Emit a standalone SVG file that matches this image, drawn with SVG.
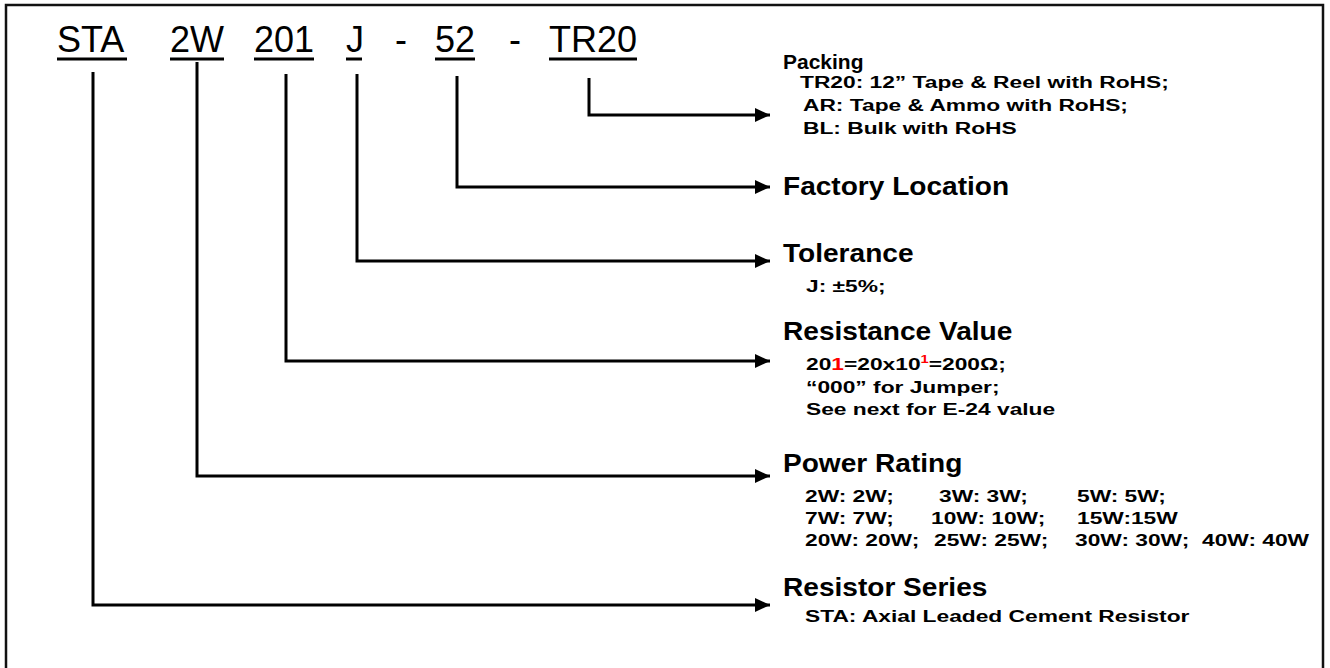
<svg xmlns="http://www.w3.org/2000/svg" width="1330" height="668" viewBox="0 0 1330 668">
<defs>
<marker id="arr" viewBox="0 0 15 14" refX="15" refY="7" markerWidth="15" markerHeight="14" markerUnits="userSpaceOnUse" orient="auto">
<path d="M0,0 L15,7 L0,14 Z" fill="#000"/>
</marker>
<style>
.title{font-family:"Liberation Sans",Arial,sans-serif;font-size:36px;fill:#000}
.ul{stroke:#000;stroke-width:3}
.conn{fill:none;stroke:#000;stroke-width:3;marker-end:url(#arr)}
.head{font-family:"Liberation Sans",Arial,sans-serif;font-size:26px;font-weight:bold;fill:#000}
.head2{font-family:"Liberation Sans",Arial,sans-serif;font-size:20px;font-weight:bold;fill:#000}
.sub{font-family:"Liberation Sans",Arial,sans-serif;font-size:17px;font-weight:bold;fill:#000}
.red{fill:#ff0000}
</style>
</defs>
<rect width="1330" height="668" fill="#fff"/>
<path d="M6,670 V5 H1323 V670" fill="none" stroke="#111" stroke-width="2.5"/>
<g id="code">
<text class="title" y="52"><tspan x="57">STA</tspan><tspan x="170">2W</tspan><tspan x="254">201</tspan><tspan x="346">J</tspan><tspan x="395">-</tspan><tspan x="435">52</tspan><tspan x="509">-</tspan><tspan x="549">TR20</tspan></text>
<line class="ul" x1="57" y1="59" x2="127" y2="59"/>
<line class="ul" x1="170" y1="59" x2="224" y2="59"/>
<line class="ul" x1="254" y1="59" x2="314" y2="59"/>
<line class="ul" x1="346" y1="59" x2="362" y2="59"/>
<line class="ul" x1="435" y1="59" x2="475" y2="59"/>
<line class="ul" x1="549" y1="59" x2="637" y2="59"/>
</g>
<g id="connectors">
<path class="conn" d="M589,78 V115 H770"/>
<path class="conn" d="M457,76 V187 H770"/>
<path class="conn" d="M357,74 V261 H770"/>
<path class="conn" d="M286,74 V361 H770"/>
<path class="conn" d="M197,62 V476 H770"/>
<path class="conn" d="M93,72 V605 H770"/>
</g>
<g id="packing">
<text class="head2" transform="translate(783,69) scale(1.05,1)">Packing</text>
<text class="sub" transform="translate(800,88) scale(1.34,1)">TR20: 12” Tape &amp; Reel with RoHS;</text>
<text class="sub" transform="translate(803,111) scale(1.34,1)">AR: Tape &amp; Ammo with RoHS;</text>
<text class="sub" transform="translate(803,134) scale(1.34,1)">BL: Bulk with RoHS</text>
</g>
<g id="factory">
<text class="head" transform="translate(783,195) scale(1.08,1)">Factory Location</text>
</g>
<g id="tolerance">
<text class="head" transform="translate(783,262) scale(1.08,1)">Tolerance</text>
<text class="sub" transform="translate(806,292) scale(1.34,1)">J: ±5%;</text>
</g>
<g id="resistance">
<text class="head" transform="translate(783,340) scale(1.08,1)">Resistance Value</text>
<text class="sub" transform="translate(806,370) scale(1.34,1)">20<tspan class="red">1</tspan>=20x10<tspan class="red" font-size="11" dy="-7">1</tspan><tspan dy="7">=200Ω;</tspan></text>
<text class="sub" transform="translate(806,393) scale(1.34,1)">“000” for Jumper;</text>
<text class="sub" transform="translate(806,415) scale(1.34,1)">See next for E-24 value</text>
</g>
<g id="power">
<text class="head" transform="translate(783,472) scale(1.08,1)">Power Rating</text>
<text class="sub" transform="translate(805,502) scale(1.34,1)">2W: 2W;</text>
<text class="sub" transform="translate(939,502) scale(1.34,1)">3W: 3W;</text>
<text class="sub" transform="translate(1077,502) scale(1.34,1)">5W: 5W;</text>
<text class="sub" transform="translate(805,524) scale(1.34,1)">7W: 7W;</text>
<text class="sub" transform="translate(931,524) scale(1.34,1)">10W: 10W;</text>
<text class="sub" transform="translate(1077,524) scale(1.34,1)">15W:15W</text>
<text class="sub" transform="translate(805,546) scale(1.34,1)">20W: 20W;</text>
<text class="sub" transform="translate(934,546) scale(1.34,1)">25W: 25W;</text>
<text class="sub" transform="translate(1075,546) scale(1.34,1)">30W: 30W;</text>
<text class="sub" transform="translate(1202,546) scale(1.34,1)">40W: 40W</text>
</g>
<g id="series">
<text class="head" transform="translate(783,596) scale(1.08,1)">Resistor Series</text>
<text class="sub" transform="translate(805,622) scale(1.34,1)">STA: Axial Leaded Cement Resistor</text>
</g>
</svg>
